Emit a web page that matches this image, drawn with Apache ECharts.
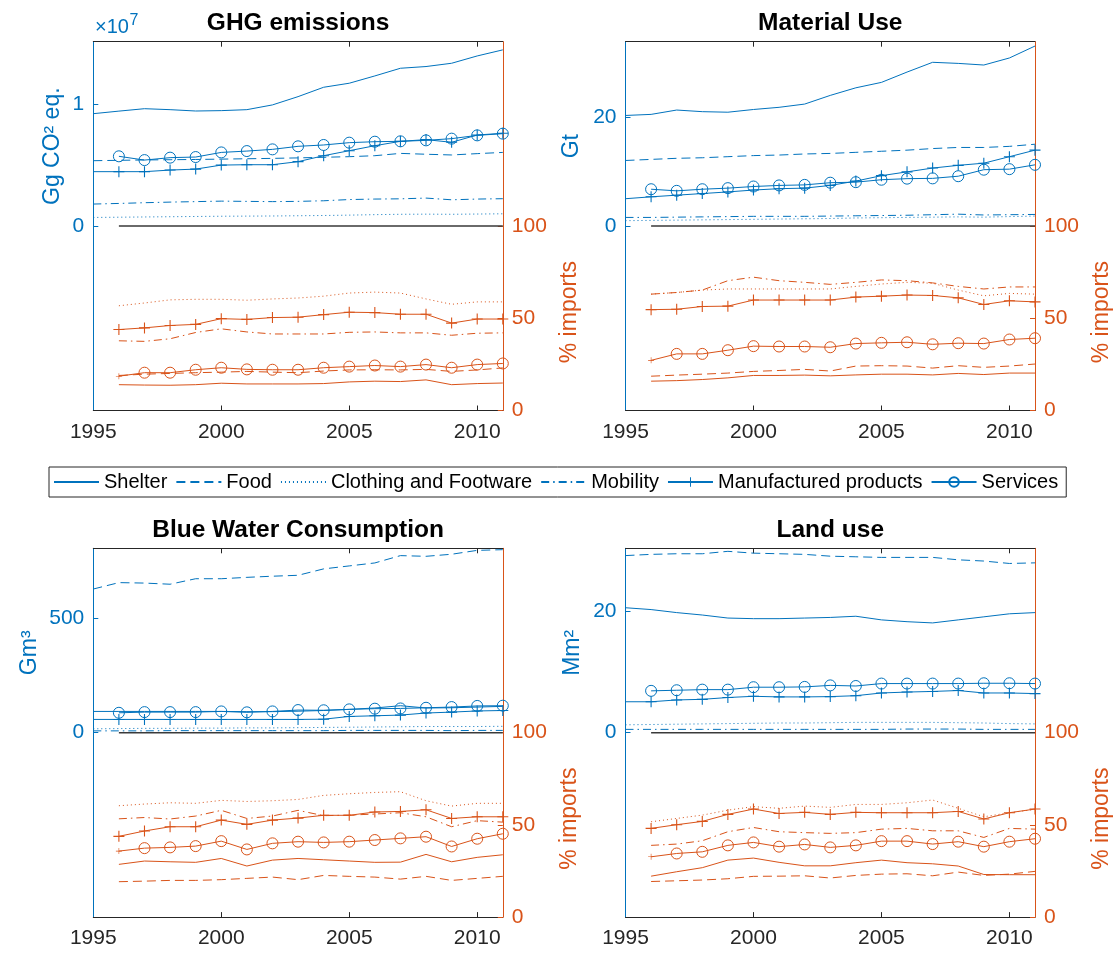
<!DOCTYPE html>
<html>
<head>
<meta charset="utf-8">
<title>Consumption footprints and import shares</title>
<script src="https://cdn.jsdelivr.net/npm/echarts@6/dist/echarts.min.js"></script>
<style>
  html, body { margin: 0; padding: 0; background: #fff; }
  #chart { width: 1118px; height: 954px; }
</style>
</head>
<body>
<div id="chart"></div>
<script>
// Years covered by the footprint totals and by the import shares
const YEARS = [1995, 1996, 1997, 1998, 1999, 2000, 2001, 2002, 2003, 2004, 2005, 2006, 2007, 2008, 2009, 2010, 2011];
const YEARS_IMP = [1996, 1997, 1998, 1999, 2000, 2001, 2002, 2003, 2004, 2005, 2006, 2007, 2008, 2009, 2010, 2011];

const CATEGORIES = ['Shelter', 'Food', 'Clothing and Footware', 'Mobility', 'Manufactured products', 'Services'];
const X_TICKS = [1995, 2000, 2005, 2010];
const IMPORT_TICKS = [0, 50, 100];

// ---- GHG emissions (Gg CO2 eq.) ----
const ghgShelter      = [9.23e6, 9.44e6, 9.64e6, 9.56e6, 9.45e6, 9.48e6, 9.56e6, 9.95e6, 1.063e7, 1.140e7, 1.173e7, 1.233e7, 1.296e7, 1.310e7, 1.337e7, 1.397e7, 1.447e7];
const ghgFood         = [5.37e6, 5.40e6, 5.43e6, 5.45e6, 5.47e6, 5.50e6, 5.53e6, 5.56e6, 5.60e6, 5.65e6, 5.70e6, 5.78e6, 5.97e6, 5.90e6, 5.84e6, 5.95e6, 6.05e6];
const ghgClothing     = [0.71e6, 0.73e6, 0.75e6, 0.77e6, 0.79e6, 0.81e6, 0.82e6, 0.83e6, 0.85e6, 0.87e6, 0.90e6, 0.94e6, 0.97e6, 0.98e6, 0.97e6, 0.99e6, 1.01e6];
const ghgMobility     = [1.81e6, 1.86e6, 1.92e6, 1.97e6, 2.01e6, 2.05e6, 2.03e6, 2.01e6, 2.03e6, 2.08e6, 2.18e6, 2.22e6, 2.24e6, 2.30e6, 2.16e6, 2.22e6, 2.25e6];
const ghgManufactured = [4.47e6, 4.47e6, 4.47e6, 4.60e6, 4.68e6, 5.01e6, 5.04e6, 5.04e6, 5.29e6, 5.78e6, 6.19e6, 6.60e6, 6.96e6, 7.10e6, 6.88e6, 7.48e6, 7.62e6];
const ghgServices     = [5.73e6, 5.42e6, 5.62e6, 5.67e6, 6.05e6, 6.16e6, 6.30e6, 6.55e6, 6.66e6, 6.85e6, 6.93e6, 6.96e6, 7.04e6, 7.18e6, 7.45e6, 7.59e6];
const ghgShelterImp      = [14.0, 13.8, 13.7, 14.0, 14.8, 14.4, 14.4, 14.4, 14.6, 15.5, 15.9, 15.7, 16.6, 14.0, 14.6, 14.9];
const ghgFoodImp         = [19.0, 19.7, 20.1, 20.5, 20.8, 21.2, 20.8, 20.5, 21.4, 22.0, 22.1, 22.0, 22.3, 21.2, 22.0, 23.1];
const ghgClothingImp     = [56.8, 58.3, 60.0, 60.3, 60.3, 59.8, 60.5, 61.0, 62.0, 63.7, 64.2, 63.7, 60.5, 57.6, 58.9, 58.9];
const ghgMobilityImp     = [37.8, 37.5, 38.9, 42.3, 44.3, 42.6, 41.5, 41.5, 41.5, 42.4, 42.6, 42.1, 42.1, 40.8, 41.9, 42.1];
const ghgManufacturedImp = [43.9, 44.8, 46.1, 46.7, 49.8, 49.4, 50.4, 50.6, 52.0, 53.3, 53.1, 52.2, 52.2, 47.4, 49.6, 49.6];
const ghgServicesImp     = [18.6, 20.5, 20.5, 22.1, 23.2, 22.3, 22.1, 22.1, 23.2, 23.8, 24.4, 23.8, 24.9, 23.2, 24.9, 25.5];

// ---- Material use (Gt) ----
const matShelter      = [20.4, 20.6, 21.4, 21.1, 21.0, 21.5, 21.9, 22.5, 24.1, 25.5, 26.5, 28.4, 30.2, 30.0, 29.7, 31.0, 33.2];
const matFood         = [12.1, 12.3, 12.5, 12.6, 12.8, 13.0, 13.1, 13.3, 13.4, 13.6, 13.8, 14.0, 14.3, 14.5, 14.5, 14.7, 15.1];
const matClothing     = [1.0, 1.05, 1.1, 1.15, 1.2, 1.25, 1.3, 1.35, 1.4, 1.5, 1.55, 1.6, 1.65, 1.7, 1.65, 1.75, 1.85];
const matMobility     = [1.6, 1.6, 1.65, 1.7, 1.75, 1.8, 1.8, 1.8, 1.85, 1.9, 1.95, 2.0, 2.1, 2.2, 2.05, 2.1, 2.15];
const matManufactured = [5.05, 5.4, 5.7, 6.0, 6.3, 6.65, 6.9, 7.0, 7.5, 8.3, 9.3, 10.0, 10.7, 11.2, 11.6, 12.8, 14.0];
const matServices     = [6.8, 6.5, 6.8, 7.0, 7.3, 7.5, 7.6, 8.0, 8.1, 8.55, 8.75, 8.8, 9.2, 10.4, 10.5, 11.3];
const matShelterImp      = [15.9, 16.2, 16.8, 17.7, 19.0, 19.0, 19.2, 18.8, 19.3, 19.7, 19.7, 19.3, 20.1, 19.5, 20.3, 20.3];
const matFoodImp         = [18.6, 19.2, 19.7, 20.3, 21.2, 21.7, 22.3, 21.4, 24.1, 24.3, 24.1, 23.0, 24.3, 23.4, 24.1, 25.2];
const matClothingImp     = [63.1, 64.0, 65.3, 65.9, 65.9, 65.9, 65.9, 65.9, 67.3, 68.6, 69.5, 69.0, 65.3, 62.2, 63.5, 63.1];
const matMobilityImp     = [63.1, 64.0, 65.3, 70.4, 72.3, 70.4, 69.5, 68.4, 69.5, 70.8, 70.4, 69.2, 67.3, 65.9, 67.0, 67.0];
const matManufacturedImp = [54.7, 54.9, 56.4, 56.6, 59.9, 59.9, 59.9, 59.9, 61.5, 62.0, 62.6, 62.4, 61.1, 57.5, 59.5, 58.9];
const matServicesImp     = [27.2, 30.7, 30.7, 32.7, 34.9, 34.7, 34.7, 34.3, 36.3, 36.7, 37.0, 35.9, 36.5, 36.3, 38.5, 39.2];

// ---- Blue water consumption (Gm3) ----
const watShelter      = [93, 93, 93, 93, 93, 93, 92, 92, 94, 97, 102, 108, 118, 108, 109, 112, 115];
const watFood         = [628, 656, 654, 649, 673, 673, 679, 684, 688, 716, 729, 742, 774, 771, 780, 797, 800];
const watClothing     = [17, 18, 19, 19, 20, 20, 21, 21, 22, 23, 24, 25, 26, 27, 27, 27, 28];
const watMobility     = [8, 8, 8, 9, 9, 9, 9, 9, 9, 9, 10, 10, 10, 10, 9, 10, 10];
const watManufactured = [58, 58, 58, 58, 58, 58, 58, 58, 58, 59, 71, 74, 77, 86, 90, 95, 97];
const watServices     = [87, 90, 90, 90, 93, 89, 93, 99, 98, 102, 105, 106, 109, 112, 117, 118];
const watShelterImp      = [28.6, 30.4, 30.0, 29.7, 31.8, 27.7, 30.9, 31.8, 31.1, 30.4, 29.7, 29.8, 34.0, 30.0, 32.4, 33.8];
const watFoodImp         = [19.2, 19.5, 19.9, 19.9, 20.3, 21.0, 21.7, 20.3, 22.6, 22.1, 21.7, 20.6, 22.1, 19.9, 21.0, 22.1];
const watClothingImp     = [60.4, 61.3, 62.0, 61.7, 63.3, 62.7, 63.1, 63.8, 66.0, 66.9, 67.6, 68.0, 63.1, 60.2, 61.7, 61.7];
const watMobilityImp     = [53.3, 54.0, 53.2, 54.8, 57.9, 53.5, 54.8, 57.9, 55.0, 55.3, 55.9, 56.6, 54.4, 49.0, 52.3, 51.5];
const watManufacturedImp = [43.8, 46.7, 49.0, 49.0, 52.6, 50.3, 52.6, 53.7, 55.2, 55.2, 57.0, 57.3, 58.2, 53.5, 54.4, 54.4];
const watServicesImp     = [35.8, 37.4, 37.8, 38.5, 41.2, 36.7, 40.0, 40.9, 40.5, 40.9, 41.8, 42.7, 43.6, 38.3, 42.5, 45.2];

// ---- Land use (Mm2) ----
const lndShelter      = [20.6, 20.3, 19.8, 19.4, 18.9, 18.8, 18.8, 18.9, 19.0, 19.2, 18.6, 18.3, 18.1, 18.6, 19.1, 19.6, 19.8];
const lndFood         = [29.2, 29.4, 29.5, 29.5, 29.9, 29.6, 29.5, 29.4, 29.1, 29.0, 28.9, 28.9, 28.9, 28.5, 28.3, 27.9, 28.0];
const lndClothing     = [1.3, 1.35, 1.4, 1.45, 1.5, 1.55, 1.6, 1.6, 1.65, 1.7, 1.7, 1.7, 1.7, 1.65, 1.6, 1.5, 1.45];
const lndMobility     = [0.55, 0.55, 0.55, 0.55, 0.55, 0.55, 0.55, 0.55, 0.55, 0.55, 0.55, 0.6, 0.6, 0.6, 0.55, 0.55, 0.55];
const lndManufactured = [5.1, 5.1, 5.4, 5.5, 5.8, 6.0, 5.9, 5.9, 5.95, 6.1, 6.55, 6.7, 6.8, 6.95, 6.55, 6.55, 6.45];
const lndServices     = [6.9, 7.0, 7.1, 7.1, 7.5, 7.5, 7.55, 7.8, 7.7, 8.1, 8.1, 8.1, 8.1, 8.15, 8.15, 8.1];
const lndShelterImp      = [22.2, 24.6, 26.8, 30.9, 32.0, 29.7, 27.8, 27.8, 29.5, 30.9, 29.5, 28.9, 27.7, 23.1, 23.0, 23.0];
const lndFoodImp         = [19.3, 19.7, 20.1, 20.8, 22.1, 22.2, 22.4, 21.2, 22.6, 23.3, 23.5, 22.4, 24.4, 22.6, 23.3, 24.8];
const lndClothingImp     = [51.7, 53.5, 55.3, 58.0, 59.9, 59.0, 60.2, 59.5, 61.1, 61.1, 62.0, 63.5, 59.0, 54.4, 56.6, 58.4];
const lndMobilityImp     = [38.9, 39.6, 41.4, 46.3, 48.6, 46.3, 45.8, 45.4, 45.8, 47.7, 48.1, 46.8, 46.8, 43.2, 48.1, 47.7];
const lndManufacturedImp = [48.1, 50.1, 51.9, 55.7, 58.6, 56.2, 56.8, 55.7, 56.8, 56.6, 56.6, 56.6, 57.3, 53.2, 56.6, 58.6];
const lndServicesImp     = [32.7, 34.5, 35.4, 38.9, 40.5, 38.2, 39.4, 37.8, 38.9, 41.2, 41.2, 39.6, 40.9, 38.2, 40.9, 42.5];

// ---- colours and marks ----
const BLUE = '#0072BD';
const ORANGE = '#D95319';
const DARK = '#262626';
const FONT = '"Liberation Sans", Arial, Helvetica, sans-serif';
const PLUS = 'path://M4.5,0h1v4.5h4.5v1h-4.5v4.5h-1v-4.5h-4.5v-1h4.5z';
const CLEAR = 'rgba(255,255,255,0)';

const LINE_TYPES = {
  'Shelter': 'solid',
  'Food': [9, 5],
  'Clothing and Footware': [1, 3],
  'Mobility': [8, 4, 1.5, 4],
  'Manufactured products': 'solid',
  'Services': 'solid'
};
const HAS_MARKER = { 'Manufactured products': true, 'Services': true };

// panel frames (pixels) and left-axis scales
const PANEL_W = 409.5;
const HALF_H = 184.4;
const PANELS = [
  { title: 'GHG emissions', left: 93.3, top: 41.7, max: 1.514e7, tick: 1e7, unit: 'Gg CO\u00b2 eq.', unitX: 53, fmt: v => String(v / 1e7),
    blue: [ghgShelter, ghgFood, ghgClothing, ghgMobility, ghgManufactured, ghgServices],
    orange: [ghgShelterImp, ghgFoodImp, ghgClothingImp, ghgMobilityImp, ghgManufacturedImp, ghgServicesImp] },
  { title: 'Material Use', left: 625.5, top: 41.7, max: 34.0, tick: 20, unit: 'Gt', unitX: 572, fmt: v => String(v),
    blue: [matShelter, matFood, matClothing, matMobility, matManufactured, matServices],
    orange: [matShelterImp, matFoodImp, matClothingImp, matMobilityImp, matManufacturedImp, matServicesImp] },
  { title: 'Blue Water Consumption', left: 93.3, top: 548.3, max: 806, tick: 500, unit: 'Gm\u00b3', unitX: 30, fmt: v => String(v),
    blue: [watShelter, watFood, watClothing, watMobility, watManufactured, watServices],
    orange: [watShelterImp, watFoodImp, watClothingImp, watMobilityImp, watManufacturedImp, watServicesImp] },
  { title: 'Land use', left: 625.5, top: 548.3, max: 30.4, tick: 20, unit: 'Mm\u00b2', unitX: 573, fmt: v => String(v),
    blue: [lndShelter, lndFood, lndClothing, lndMobility, lndManufactured, lndServices],
    orange: [lndShelterImp, lndFoodImp, lndClothingImp, lndMobilityImp, lndManufacturedImp, lndServicesImp] }
];

function pairs(years, vals) {
  return vals.map((v, i) => [years[i], v]);
}

function makeSeries(name, color, data, xIdx, yIdx) {
  const s = {
    name: name,
    type: 'line',
    xAxisIndex: xIdx,
    yAxisIndex: yIdx,
    data: data,
    lineStyle: { color: color, width: 1, type: LINE_TYPES[name] },
    symbol: 'none',
    showSymbol: false,
    z: 3
  };
  if (name === 'Manufactured products') {
    s.symbol = PLUS;
    s.showSymbol = true;
    s.symbolSize = 11;
    s.itemStyle = { color: color, borderWidth: 0 };
  } else if (name === 'Services') {
    s.symbol = 'circle';
    s.showSymbol = true;
    s.symbolSize = 11;
    s.itemStyle = { color: CLEAR, borderColor: color, borderWidth: 1 };
  } else {
    s.itemStyle = { color: color };
  }
  return s;
}

const grids = [], xAxes = [], yAxes = [], series = [], graphics = [];

PANELS.forEach((p, pi) => {
  const gTop = pi * 2, gBot = pi * 2 + 1;
  grids.push({ left: p.left, top: p.top, width: PANEL_W, height: HALF_H });
  grids.push({ left: p.left, top: p.top + HALF_H, width: PANEL_W, height: HALF_H });

  // top frame edge with inward ticks
  xAxes.push({
    gridIndex: gTop, type: 'value', position: 'top', min: 1995, max: 2011, interval: 5,
    axisLine: { show: true, onZero: false, lineStyle: { color: DARK, width: 1 } },
    axisTick: { show: true, inside: true, length: 5, lineStyle: { color: DARK }, customValues: [2000, 2005, 2010] },
    axisLabel: { show: false }, splitLine: { show: false }
  });
  // bottom year axis
  xAxes.push({
    gridIndex: gBot, type: 'value', position: 'bottom', min: 1995, max: 2011, interval: 5,
    axisLine: { show: true, onZero: false, lineStyle: { color: DARK, width: 1 } },
    axisTick: { show: true, inside: true, length: 5, lineStyle: { color: DARK }, customValues: [2000, 2005, 2010] },
    axisLabel: { show: true, color: DARK, fontSize: 21, fontFamily: FONT, margin: 11, customValues: X_TICKS, formatter: v => String(v) },
    splitLine: { show: false }
  });

  // upper half: footprint totals (left, blue)
  yAxes.push({
    gridIndex: gTop, type: 'value', position: 'left', min: 0, max: p.max,
    axisLine: { show: true, onZero: false, lineStyle: { color: BLUE, width: 1 } },
    axisTick: { show: true, inside: true, length: 5, lineStyle: { color: BLUE }, customValues: [0, p.tick] },
    axisLabel: { show: true, color: BLUE, fontSize: 21, fontFamily: FONT, margin: 9, customValues: [0, p.tick], formatter: p.fmt },
    splitLine: { show: false }
  });
  yAxes.push({
    gridIndex: gTop, type: 'value', position: 'right', min: 0, max: p.max,
    axisLine: { show: true, onZero: false, lineStyle: { color: ORANGE, width: 1 } },
    axisTick: { show: false }, axisLabel: { show: false }, splitLine: { show: false }
  });
  // lower half: import shares (right, orange)
  yAxes.push({
    gridIndex: gBot, type: 'value', position: 'left', min: 0, max: 100,
    axisLine: { show: true, onZero: false, lineStyle: { color: BLUE, width: 1 } },
    axisTick: { show: false }, axisLabel: { show: false }, splitLine: { show: false }
  });
  yAxes.push({
    gridIndex: gBot, type: 'value', position: 'right', min: 0, max: 100, interval: 50,
    axisLine: { show: true, onZero: false, lineStyle: { color: ORANGE, width: 1 } },
    axisTick: { show: true, inside: true, length: 5, lineStyle: { color: ORANGE }, customValues: IMPORT_TICKS },
    axisLabel: { show: true, color: ORANGE, fontSize: 21, fontFamily: FONT, margin: 9, customValues: IMPORT_TICKS },
    splitLine: { show: false }
  });

  const yTopLeft = gTop * 2;
  const yBotRight = gBot * 2 + 1;

  CATEGORIES.forEach((name, ci) => {
    let data;
    if (name === 'Services') {
      data = pairs(YEARS_IMP, p.blue[ci]);
    } else {
      data = pairs(YEARS, p.blue[ci]);
    }
    if (name === 'Manufactured products') {
      data[0] = { value: data[0], symbol: 'none' };
    }
    series.push(makeSeries(name, BLUE, data, gTop, yTopLeft));
  });

  // zero reference line between the two halves
  series.push({
    name: 'zero', type: 'line', xAxisIndex: gTop, yAxisIndex: yTopLeft,
    data: pairs(YEARS_IMP, YEARS_IMP.map(() => 0)),
    symbol: 'none', clip: false, silent: true, z: 4,
    lineStyle: { color: '#3a3a3a', width: 1.5 }
  });

  CATEGORIES.forEach((name, ci) => {
    const data = pairs(YEARS_IMP, p.orange[ci]);
    if (name === 'Services') {
      data[0] = { value: data[0], symbol: PLUS, symbolSize: 6, itemStyle: { color: ORANGE, borderWidth: 0 } };
    }
    series.push(makeSeries(name, ORANGE, data, gBot, yBotRight));
  });

  // titles and axis names
  const cx = p.left + PANEL_W / 2;
  graphics.push({
    type: 'text', x: cx, y: p.top - 18.5,
    style: { text: p.title, fill: '#000', font: 'bold 24.5px ' + FONT, align: 'center', verticalAlign: 'middle', textAlign: 'center', textVerticalAlign: 'middle' }
  });
  graphics.push({
    type: 'text', x: p.unitX, y: p.top + 104.5, rotation: Math.PI / 2,
    style: { text: p.unit, fill: BLUE, font: '23px ' + FONT, align: 'center', verticalAlign: 'middle', textAlign: 'center', textVerticalAlign: 'middle' }
  });
  graphics.push({
    type: 'text', x: p.left + PANEL_W + 67, y: p.top + HALF_H + 86, rotation: Math.PI / 2,
    style: { text: '% imports', fill: ORANGE, font: '23px ' + FONT, align: 'center', verticalAlign: 'middle', textAlign: 'center', textVerticalAlign: 'middle' }
  });
});

// exponent marker of the GHG axis
graphics.push({
  type: 'text', x: 95, y: 27.5,
  style: { text: '\u00d710', fill: BLUE, font: '20px ' + FONT, align: 'left', verticalAlign: 'middle', textAlign: 'left', textVerticalAlign: 'middle' }
});
graphics.push({
  type: 'text', x: 129.5, y: 20.5,
  style: { text: '7', fill: BLUE, font: '16px ' + FONT, align: 'left', verticalAlign: 'middle', textAlign: 'left', textVerticalAlign: 'middle' }
});

// legend entries: plain line samples for the unmarked categories
const legendData = CATEGORIES.map(name => HAS_MARKER[name]
  ? { name: name }
  : { name: name, itemStyle: { color: CLEAR, borderColor: CLEAR, borderWidth: 0, opacity: 0 } });

const option = {
  animation: false,
  backgroundColor: '#fff',
  textStyle: { fontFamily: FONT },
  grid: grids,
  xAxis: xAxes,
  yAxis: yAxes,
  legend: {
    data: legendData,
    left: 49, top: 467,
    orient: 'horizontal',
    itemWidth: 45, itemHeight: 12, itemGap: 8,
    padding: [5, 8, 5, 4],
    borderColor: DARK, borderWidth: 1,
    backgroundColor: '#fff',
    selectedMode: false,
    textStyle: { fontSize: 20, color: '#000', fontFamily: FONT }
  },
  graphic: graphics,
  series: series
};

const chart = echarts.init(document.getElementById('chart'), null, { renderer: 'canvas' });
chart.setOption(option);
</script>
</body>
</html>
